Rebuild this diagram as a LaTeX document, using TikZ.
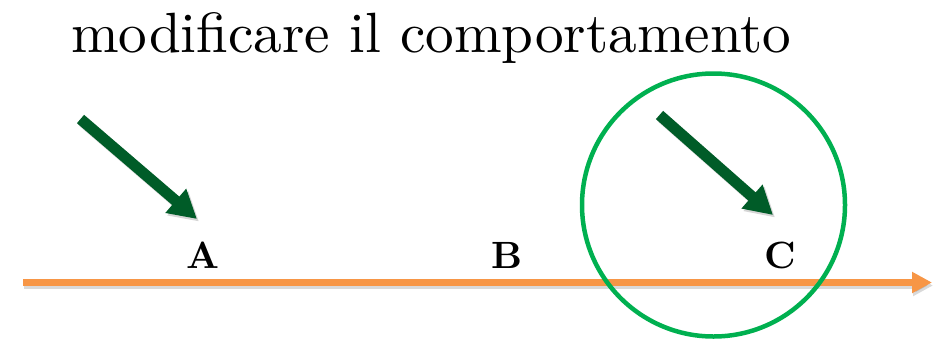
\documentclass[tikz,border=0pt]{standalone}
\usepackage{fontspec}
\usetikzlibrary{arrows.meta}
\definecolor{lineorange}{RGB}{247,150,70}
\definecolor{ringgreen}{RGB}{0,176,80}
\definecolor{arrowgreen}{RGB}{0,92,40}
\newcommand{\bigletter}[1]{\scalebox{3.8}{\bfseries #1}}
\tikzset{
  lettertag/.style={inner sep=0pt, anchor=base},
  bigarrow/.style={draw=arrowgreen, line width=11pt, -{Triangle[length=28pt,width=30pt]}},
  arrowshadow/.style={draw=black, opacity=0.16, line width=11pt, -{Triangle[length=28pt,width=30pt]}},
  axis/.style={draw=lineorange, line width=7pt, -{Triangle[length=20pt,width=20pt]}},
  axisshadow/.style={draw=black, opacity=0.15, line width=7pt, -{Triangle[length=20pt,width=20pt]}},
  ring/.style={circle, draw=ringgreen, line width=4.5pt, inner sep=0pt, minimum size=263pt}
}
\begin{document}
\begin{tikzpicture}[x=1pt,y=-1pt]
  \useasboundingbox (0,0) rectangle (941,338);
  \fill[white] (0,0) rectangle (941,338);
  % title
  \node[anchor=base west, inner sep=0pt] (title) at (71,52)
    {\resizebox{720pt}{40pt}{modificare il comportamento}};
  % labels
  \node[lettertag] (A) at (203.5,268) {\bigletter{A}};
  \node[lettertag] (B) at (507,268) {\bigletter{B}};
  \node[lettertag] (C) at (780.5,268) {\bigletter{C}};
  % axis
  \coordinate (axstart) at (23,282.5);
  \coordinate (axend) at (932,282.5);
  \coordinate (axstartS) at (24,285.5);
  \coordinate (axendS) at (933,285.5);
  \draw[axisshadow] (axstartS) -- (axendS);
  \draw[axis] (axstart) -- (axend);
  % ring
  \node[ring] (circ) at (713.5,205) {};
  % arrows
  \coordinate (t1) at (80.5,119);
  \coordinate (h1) at (197,219);
  \coordinate (t1s) at (82.5,121.5);
  \coordinate (h1s) at (199,221.5);
  \coordinate (t2) at (659.5,115);
  \coordinate (h2) at (773,215);
  \coordinate (t2s) at (661.5,117.5);
  \coordinate (h2s) at (775,217.5);
  \draw[arrowshadow] (t1s) -- (h1s);
  \draw[arrowshadow] (t2s) -- (h2s);
  \draw[bigarrow] (t1) -- (h1);
  \draw[bigarrow] (t2) -- (h2);
\end{tikzpicture}
\end{document}
